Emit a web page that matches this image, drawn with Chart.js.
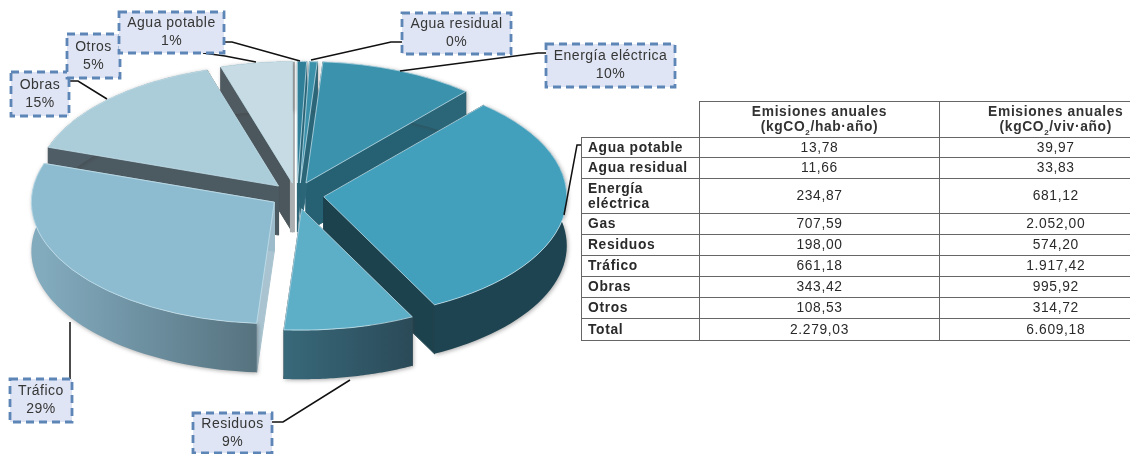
<!DOCTYPE html>
<html lang="es">
<head>
<meta charset="utf-8">
<title>Emisiones anuales</title>
<script src="https://cdn.jsdelivr.net/npm/chart.js@4"></script>
<style>
html,body{margin:0;padding:0;background:#fff;width:1131px;height:454px;overflow:hidden}
#wrap{position:relative;width:1131px;height:454px;filter:blur(.55px)}
canvas{position:absolute;left:0;top:0}
table{position:absolute;left:581px;top:101px;width:548px;border-collapse:collapse;table-layout:fixed;
 font:13.8px/15.5px "Liberation Sans",Arial,sans-serif;letter-spacing:.65px;color:#2a2a2a}
th,td{border:1px solid #666;padding:0;text-align:center;overflow:visible;white-space:nowrap}
thead th{font-weight:bold;color:#333;vertical-align:middle;line-height:14.5px}
thead th:first-child{border-top:none;border-left:none}
th.r,td.r{border-right:none;padding-left:42px}
tbody th{font-weight:bold;text-align:left;padding-left:6px}
sub{font-size:8px;line-height:0}
</style>
</head>
<body>
<div id="wrap">
<canvas id="c" width="1131" height="454"></canvas>
<table id="t"></table>
</div>
<script>
const categories = ['Agua potable','Agua residual','Energía eléctrica','Gas','Residuos','Tráfico','Obras','Otros'];
const emisionesHab = [13.78,11.66,234.87,707.59,198.00,661.18,343.42,108.53];
const emisionesViv = [39.97,33.83,681.12,2052.00,574.20,1917.42,995.92,314.72];
const totalHab = 2279.03;
const totalViv = 6609.18;
const percentLabels = ['1%','0%','10%',null,'9%','29%','15%','5%'];

const W = 1131, H = 454, CX = 296, CY = 195, RADIUS = 243, SQUASH = 0.5, DEPTH = 49;
const topColors = ['#2f7f98','#3b90aa','#3b92ad','#42a0bd','#5dafc8','#8dbcd1','#abcdda','#c6dbe3'];
const explode   = [24,24,26,28,28,26,25,24];
const nudgeX    = [1,3,0,0,0,0,0,0];
const rimLeft   = ['#2a6678','#2a6678','#2a6678','#1d4450','#38697a','#82abbe','#4f5e66','#505b61'];
const rimRight  = ['#2a6678','#2a6678','#2a6678','#1d4450','#2b4a58','#56727f','#4f5e66','#505b61'];
const wallColors= ['#2a6678','#2a6678','#266173','#1c424e','#2b4a58','#a9c4d0','#4c5a62','#4c575d'];
const endWallColors = ['#2a6678','#2a6678','#266173','#1c424e','#2b4a58','#9dbccb','#4c5a62','#aaaeb0'];

/* label boxes: [x0,y0,x1,y1], leader polyline */
const boxes = [
 {i:6, r:[11,72,69,116],  lead:[[69,81],[78,81],[107,99]]},
 {i:7, r:[67,34,120,78],  lead:[[203,53],[225,56],[256,62]]},
 {i:0, r:[119,12,224,53], lead:[[224,42],[232,42],[300,61]]},
 {i:1, r:[402,13,511,54], lead:[[402,42],[391,42],[311,60]]},
 {i:2, r:[546,44,675,87], lead:[[546,53],[538,53],[400,71]]},
 {i:5, r:[10,379,72,422], lead:[[70,379],[70,322]]},
 {i:4, r:[193,413,272,453], lead:[[272,422],[283,422],[350,380]]}
];
const gasLead = [[581,145],[577,145],[564,215]];

const pie3d = {
  id:'pie3d',
  beforeDatasetDraw(chart,args){
    const ctx = chart.ctx, arcs = chart.getDatasetMeta(0).data;
    const items = arcs.map((a,i)=>{
      const h=(a.startAngle+a.endAngle)/2;
      return {a,i,h,ox:Math.cos(h)*explode[i]+nudgeX[i],oy:Math.sin(h)*explode[i]*SQUASH};
    }).sort((p,q)=>(p.a.y+p.oy)-(q.a.y+q.oy));
    const pt=(it,ang,r,d)=>[it.a.x+it.ox+Math.cos(ang)*r, it.a.y+it.oy+Math.sin(ang)*r*SQUASH+d];
    // outer rims and radial walls
    items.forEach(it=>{
      const {a,i}=it, r=a.outerRadius;
      const wall=(ang,col)=>{
        const A=pt(it,ang,0,0),B=pt(it,ang,r,0),C=pt(it,ang,r,DEPTH),D=pt(it,ang,0,DEPTH);
        ctx.beginPath();ctx.moveTo(...A);ctx.lineTo(...B);ctx.lineTo(...C);ctx.lineTo(...D);ctx.closePath();
        ctx.fillStyle=col;ctx.strokeStyle=col;ctx.lineWidth=(i===7&&col===endWallColors[7])?5:1;ctx.fill();ctx.stroke();
      };
      wall(a.startAngle,wallColors[i]);
      wall(a.endAngle,endWallColors[i]);
      // rim
      const s=a.startAngle,e=a.endAngle,n=48;
      const x0=pt(it,s,r,0)[0],x1=pt(it,e,r,0)[0];
      const g=ctx.createLinearGradient(Math.min(x0,x1),0,Math.max(x0,x1)+.01,0);
      g.addColorStop(0,rimLeft[i]);g.addColorStop(1,rimRight[i]);
      ctx.save();
      ctx.shadowColor='rgba(60,60,60,.45)';ctx.shadowBlur=4;ctx.shadowOffsetY=1;ctx.shadowOffsetX=1;
      ctx.beginPath();
      for(let k=0;k<=n;k++){const P=pt(it,s+(e-s)*k/n,r,0);k?ctx.lineTo(...P):ctx.moveTo(...P);}
      for(let k=n;k>=0;k--){const P=pt(it,s+(e-s)*k/n,r,DEPTH);ctx.lineTo(...P);}
      ctx.closePath();ctx.fillStyle=g;ctx.fill();ctx.restore();
    });
    // top faces, drawn by the library's arc elements
    items.forEach(it=>{
      ctx.save();
      ctx.translate(it.a.x+it.ox,it.a.y+it.oy);
      ctx.scale(1,SQUASH);
      ctx.translate(-it.a.x,-it.a.y);
      it.a.draw(ctx);
      ctx.restore();
    });
    return false;
  },
  afterDraw(chart){
    const ctx=chart.ctx;
    ctx.save();
    const line=pts=>{ctx.beginPath();pts.forEach((p,k)=>k?ctx.lineTo(...p):ctx.moveTo(...p));ctx.strokeStyle='#111';ctx.lineWidth=1.5;ctx.setLineDash([]);ctx.stroke();};
    boxes.forEach(b=>line(b.lead));
    line(gasLead);
    boxes.forEach(b=>{
      const [x0,y0,x1,y1]=b.r;
      ctx.fillStyle='#dfe5f4';ctx.fillRect(x0,y0,x1-x0,y1-y0);
      ctx.strokeStyle='#5d86b7';ctx.lineWidth=2.8;ctx.setLineDash([8,5]);
      ctx.strokeRect(x0,y0,x1-x0,y1-y0);
      ctx.setLineDash([]);
      ctx.fillStyle='#363636';ctx.font='14px "Liberation Sans", Arial, sans-serif';ctx.letterSpacing='0.5px';ctx.textAlign='center';ctx.textBaseline='middle';
      const mx=(x0+x1)/2,my=(y0+y1)/2;
      ctx.fillText(categories[b.i],mx,my-9);
      ctx.fillText(percentLabels[b.i],mx,my+9);
    });
    ctx.restore();
  }
};

new Chart(document.getElementById('c'),{
  type:'pie',
  data:{labels:categories,datasets:[{data:emisionesHab,backgroundColor:topColors,borderColor:'#c4e2ec',borderWidth:1,clip:false}]},
  options:{
    responsive:false,animation:false,radius:RADIUS,
    layout:{padding:{left:0,top:0,right:W-2*CX,bottom:H-2*CY}},
    plugins:{legend:{display:false},tooltip:{enabled:false}}
  },
  plugins:[pie3d]
});

/* table */
const fmt=v=>{const [a,b]=v.toFixed(2).split('.');return a.replace(/\B(?=(\d{3})+$)/g,'.')+','+b;};
const rowHeights=[20,21,35,21,21,21,21,21,22];
const names=['Agua potable','Agua residual','Energía<br>eléctrica','Gas','Residuos','Tráfico','Obras','Otros','Total'];
const hab=[...emisionesHab,totalHab], viv=[...emisionesViv,totalViv];
let html='<colgroup><col style="width:118px"><col style="width:240px"><col style="width:190px"></colgroup>'+
 '<thead><tr style="height:36px"><th></th><th>Emisiones anuales<br>(kgCO<sub>2</sub>/hab·año)</th><th class="r">Emisiones anuales<br>(kgCO<sub>2</sub>/viv·año)</th></tr></thead><tbody>';
names.forEach((n,i)=>{html+=`<tr style="height:${rowHeights[i]}px"><th>${n}</th><td>${fmt(hab[i])}</td><td class="r">${fmt(viv[i])}</td></tr>`;});
document.getElementById('t').innerHTML=html+'</tbody>';
</script>
</body>
</html>
